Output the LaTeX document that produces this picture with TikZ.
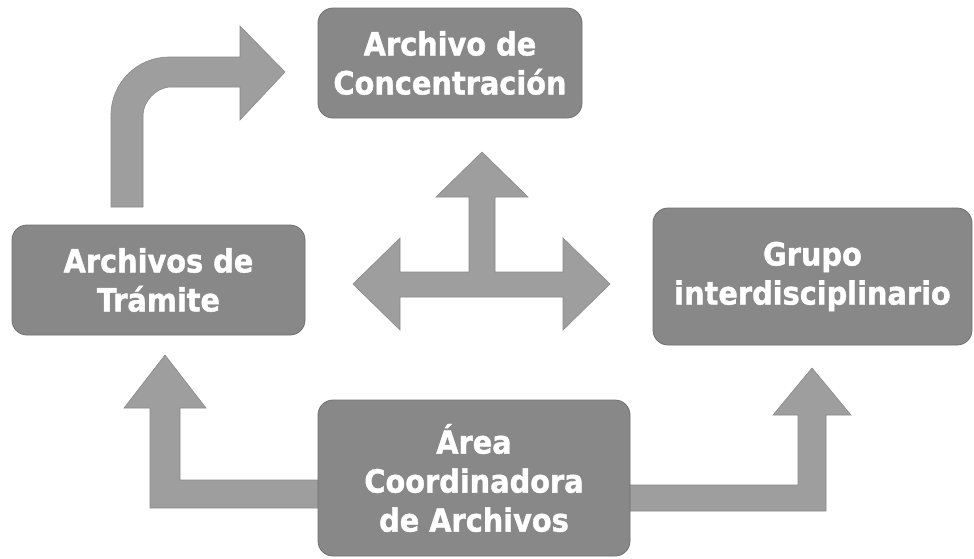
\documentclass[tikz,border=0pt]{standalone}
\usepackage{fontspec}
\newfontfamily\boxfont{DejaVu Sans Condensed Bold}[FakeBold=1.2]
\definecolor{boxgray}{RGB}{136,136,136}
\definecolor{boxedge}{RGB}{112,112,112}
\definecolor{arrowgray}{RGB}{158,158,158}
\definecolor{arrowedge}{RGB}{138,138,138}
\tikzset{
  stagebox/.style={draw=boxedge, line width=0.8pt, fill=boxgray, rounded corners=15pt,
    text=white, align=center, inner sep=0pt,
    font=\boxfont\fontsize{32}{39}\selectfont},
  blockarrow/.style={fill=arrowgray, draw=arrowedge, line width=0.6pt, line join=miter}
}
\begin{document}
\begin{tikzpicture}[x=1pt,y=-1pt]
\useasboundingbox (0,0) rectangle (974,558);
\fill[white] (0,0) rectangle (974,558);

% block arrows (drawn first, boxes on top)
% bent arrow from Archivos de Tramite to Archivo de Concentracion
\draw[blockarrow] (111,207) -- (111,115)
  .. controls (111,83) and (137,57) .. (169,57)
  -- (240,57) -- (240,26) -- (285,72) -- (240,120) -- (240,87) -- (171,87)
  .. controls (155.5,87) and (143,102.5) .. (143,115)
  -- (143,207) -- cycle;

% cross arrow in the middle
\draw[blockarrow] (482,152) -- (528,197) -- (495,197) -- (495,272) -- (563,272)
  -- (563,238) -- (610,284) -- (563,330) -- (563,297) -- (400,297) -- (400,330)
  -- (353,284) -- (400,238) -- (400,272) -- (469,272) -- (469,197) -- (436,197) -- cycle;

% left arrow from Area Coordinadora up to Archivos de Tramite
\draw[blockarrow] (330,480) -- (180,480) -- (180,408) -- (206,408) -- (165,355)
  -- (124,408) -- (150,408) -- (150,508) -- (330,508) -- cycle;

% right arrow from Area Coordinadora up to Grupo interdisciplinario
\draw[blockarrow] (620,485) -- (798,485) -- (798,415) -- (773,415) -- (812,368)
  -- (851,415) -- (826,415) -- (826,511) -- (620,511) -- cycle;

% boxes
\node[stagebox, minimum width=264pt, minimum height=110pt] (conc) at (450,63)
  {Archivo de\\Concentración};
\node[stagebox, minimum width=293pt, minimum height=110pt] (tram) at (158.5,280)
  {Archivos de\\Trámite};
\node[stagebox, minimum width=319pt, minimum height=137pt] (grupo) at (812.5,276.5)
  {Grupo\\interdisciplinario};
\node[stagebox, minimum width=312pt, minimum height=156pt] (area) at (474,478)
  {Área\\Coordinadora\\de Archivos};
\end{tikzpicture}
\end{document}
